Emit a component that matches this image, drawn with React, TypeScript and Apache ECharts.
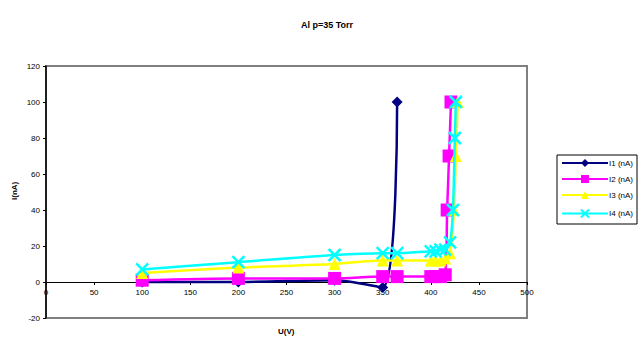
import React, { useEffect, useRef } from "react";
import * as echarts from "echarts";

const title = "Al p=35 Torr";
const seriesNames = ["I1 (nA)", "I2 (nA)", "I3 (nA)", "I4 (nA)"];
const u1 = [100, 200, 300, 350, 365];
const i1 = [0, 0, 1, -3, 100];
const u2 = [100, 200, 300, 350, 365, 400, 405, 410, 415, 417, 419, 421];
const i2 = [1, 2, 2, 3, 3, 3, 3, 3, 4, 40, 70, 100];
const u3 = [100, 200, 300, 350, 365, 400, 405, 410, 415, 420, 424, 426, 428];
const i3 = [5, 8, 10, 12, 12, 12, 12, 12, 13, 16, 40, 70, 100];
const u4 = [100, 200, 300, 350, 365, 400, 405, 410, 415, 420, 423, 425, 426];
const i4 = [7, 11, 15, 16, 16, 17, 17, 18, 18, 22, 40, 80, 100];
const colors = ["#000080", "#ff00ff", "#ffff00", "#00ffff"];

const zip = (xs: number[], ys: number[]) => xs.map((x, k) => [x, ys[k]]);

export default function App() {
  const ref = useRef<HTMLDivElement>(null);
  useEffect(() => {
    if (!ref.current) return;
    const chart = echarts.init(ref.current, undefined, { renderer: "svg" });
    const font = "Liberation Sans, Arial, sans-serif";
    const symbols = ["diamond", "rect", "triangle", "path://M0,0L10,10M10,0L0,10"];
    const sizes = [11, 13, 12, 12];
    const datas = [zip(u1, i1), zip(u2, i2), zip(u3, i3), zip(u4, i4)];
    chart.setOption({
      animation: false,
      textStyle: { fontFamily: font },
      title: {
        text: title,
        left: 322,
        top: 15,
        textAlign: "center",
        textStyle: { fontSize: 9, fontWeight: "bold", color: "#000", fontFamily: font },
      },
      grid: [
        {
          left: 46,
          top: 66,
          right: 113,
          bottom: 20,
          show: true,
          borderColor: "#808080",
          borderWidth: 2,
          backgroundColor: "#fff",
        },
        {
          left: 46,
          top: 66,
          right: 113,
          bottom: 56,
          show: false,
        },
      ],
      legend: {
        orient: "vertical",
        left: 557,
        top: 155,
        itemWidth: 46,
        itemHeight: 10,
        itemGap: 8,
        padding: [4, 4, 4, 4],
        borderColor: "#000",
        borderWidth: 1,
        textStyle: { fontSize: 8, color: "#000", fontFamily: font, padding: [0, 0, 0, -4] },
        data: seriesNames,
      },
      xAxis: [
        {
          type: "value",
          gridIndex: 0,
          min: 0,
          max: 500,
          interval: 50,
          splitLine: { show: false },
          axisLine: { show: false },
          axisTick: { show: false },
          axisLabel: { show: false },
        },
        {
          type: "value",
          gridIndex: 1,
          min: 0,
          max: 500,
          interval: 50,
          position: "bottom",
          splitLine: { show: false },
          axisLine: { show: true, onZero: false, lineStyle: { color: "#000", width: 1 } },
          axisTick: { show: true, length: 3, lineStyle: { color: "#000" } },
          axisLabel: { fontSize: 8, color: "#000", margin: 6, fontFamily: font },
          z: 1,
        },
      ],
      yAxis: [
        {
          type: "value",
          gridIndex: 0,
          min: -20,
          max: 120,
          interval: 20,
          splitLine: { show: false },
          axisLine: { show: true, onZero: false, lineStyle: { color: "#000", width: 1.5 } },
          axisTick: { show: true, length: 3, lineStyle: { color: "#000" } },
          axisLabel: { fontSize: 8, color: "#000", margin: 6, fontFamily: font },
        },
        {
          type: "value",
          gridIndex: 1,
          min: 0,
          max: 120,
          show: false,
        },
      ],
      graphic: [
        {
          type: "text",
          left: 278,
          top: 327,
          style: { text: "U(V)", fontSize: 8, fontWeight: "bold", fill: "#000", fontFamily: font },
        },
        {
          type: "text",
          x: 10,
          y: 200,
          rotation: Math.PI / 2,
          style: { text: "I(nA)", fontSize: 8, fontWeight: "bold", fill: "#000", fontFamily: font },
        },
      ],
      series: seriesNames.map((name, k) => ({
        name,
        type: "line",
        xAxisIndex: 0,
        yAxisIndex: 0,
        data: datas[k],
        smooth: 0.3,
        symbol: symbols[k],
        symbolSize: sizes[k],
        lineStyle: { color: colors[k], width: 2.5 },
        itemStyle:
          k === 3
            ? { color: "none", borderColor: colors[k], borderWidth: 2.5 }
            : { color: colors[k], borderColor: colors[k], borderWidth: 0 },
        z: 2 + k,
      })),
    });
    return () => chart.dispose();
  }, []);
  return (
    <div
      ref={ref}
      style={{ position: "fixed", left: 0, top: 0, width: 640, height: 338, background: "#fff" }}
    />
  );
}
